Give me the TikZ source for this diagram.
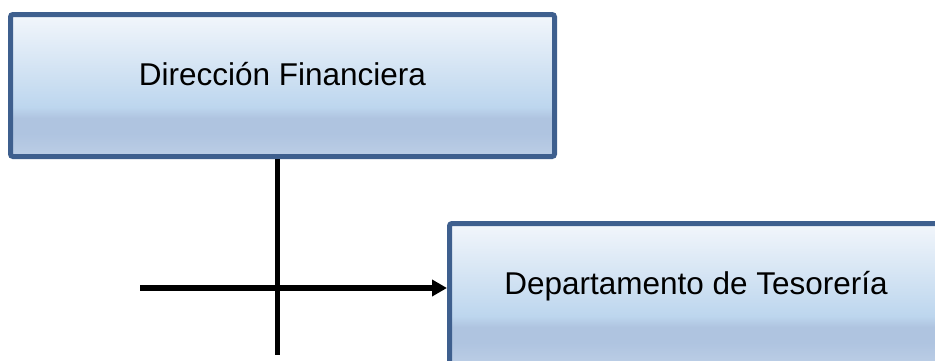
\documentclass[tikz,border=0pt]{standalone}
\usepackage{fontspec}
\setmainfont{Liberation Sans}
\usetikzlibrary{arrows.meta}
\definecolor{bordc}{HTML}{3E5F8E}
\definecolor{sA}{HTML}{F2F6FB}
\definecolor{sB}{HTML}{BDD6EE}
\definecolor{sC}{HTML}{AFC4E0}
\definecolor{sD}{HTML}{BCCEE6}
\pgfdeclareverticalshading{boxshade}{100bp}{color(0bp)=(sD); color(25bp)=(sD); color(33bp)=(sC); color(38.5bp)=(sC); color(42.5bp)=(sB); color(75bp)=(sA); color(100bp)=(sA)}
\tikzset{
  orgbox/.style={draw=bordc, line width=5pt, rounded corners=2.5pt, shading=boxshade,
    inner sep=0pt, minimum height=142pt, text height=22pt, text depth=23pt,
    font=\fontsize{31.5pt}{36pt}\selectfont, text=black},
  conn/.style={draw=black, line width=5.5pt}
}
\begin{document}
\begin{tikzpicture}[x=1pt,y=-1pt]
\useasboundingbox (0,0) rectangle (935,360);
\clip (0,0) rectangle (935,360);
\node[orgbox, minimum width=544pt] (b1) at (282.5,85.5) {Dirección Financiera};
\node[orgbox, minimum width=493pt] (b2) at (696,294.5) {Departamento de Tesorería};
\coordinate (vb) at (277.5,355);
\coordinate (hs) at (140,288);
\draw[conn] (b1.south -| vb) -- (vb);
\draw[conn, -{Triangle[length=15pt,width=16pt]}] (hs) -- (b2.west |- hs);
\end{tikzpicture}
\end{document}
